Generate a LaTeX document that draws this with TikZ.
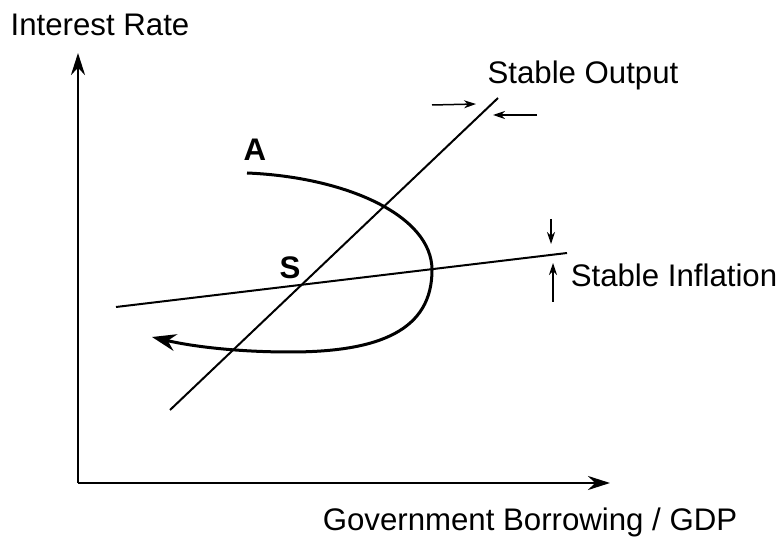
\documentclass[tikz,border=0pt]{standalone}
\usepackage{fontspec}
\setmainfont{Liberation Sans}
\usetikzlibrary{arrows.meta}

\begin{document}
\begin{tikzpicture}[x=0.5pt,y=-0.5pt,font=\fontsize{15.6}{18}\selectfont,
  axis/.style={line width=1.4pt,-{Stealth[length=11pt,width=7pt]}},
  ratio/.style={line width=1pt},
  nudge/.style={line width=0.75pt,-{Stealth[length=6pt,width=4pt]}}]
  \useasboundingbox (0,0) rectangle (781,539);
  \coordinate (O) at (78,483);
  \coordinate (ytip) at (78,53);
  \coordinate (xtip) at (610,483);
  \draw[axis] (O) -- (ytip);
  \draw[axis] (O) -- (xtip);
  \node (ylab) at (100,25) {Interest Rate};
  \node (xlab) at (530,522) {Government Borrowing / GDP};
  \coordinate (out0) at (170,410);
  \coordinate (out1) at (498,98);
  \coordinate (inf0) at (116,307);
  \coordinate (inf1) at (567,253);
  \draw[ratio] (out0) -- (out1);
  \draw[ratio] (inf0) -- (inf1);
  \node (outlab) at (583,75) {Stable Output};
  \node (inflab) at (674,275) {Stable Inflation};
  \draw[nudge] (432,105) -- (476,104);
  \draw[nudge] (537,115) -- (493,115);
  \draw[nudge] (551,219) -- (551,244);
  \draw[nudge] (553,302) -- (553,263);
  \coordinate (start) at (247,173);
  \coordinate (east) at (432,270);
  \coordinate (south) at (290,352);
  \coordinate (tip) at (152,337);
  \draw[line width=1.5pt,-{Stealth[length=12pt,width=8.5pt]}] (start)
    .. controls (345,177) and (432,215) .. (east)
    .. controls (432,330) and (380,352) .. (south)
    .. controls (235,352) and (190,346) .. (tip);
  \node[font=\fontsize{15.6}{18}\selectfont\bfseries] (A) at (255,150) {A};
  \node[font=\fontsize{15.6}{18}\selectfont\bfseries] (S) at (290,268) {S};
\end{tikzpicture}
\end{document}
